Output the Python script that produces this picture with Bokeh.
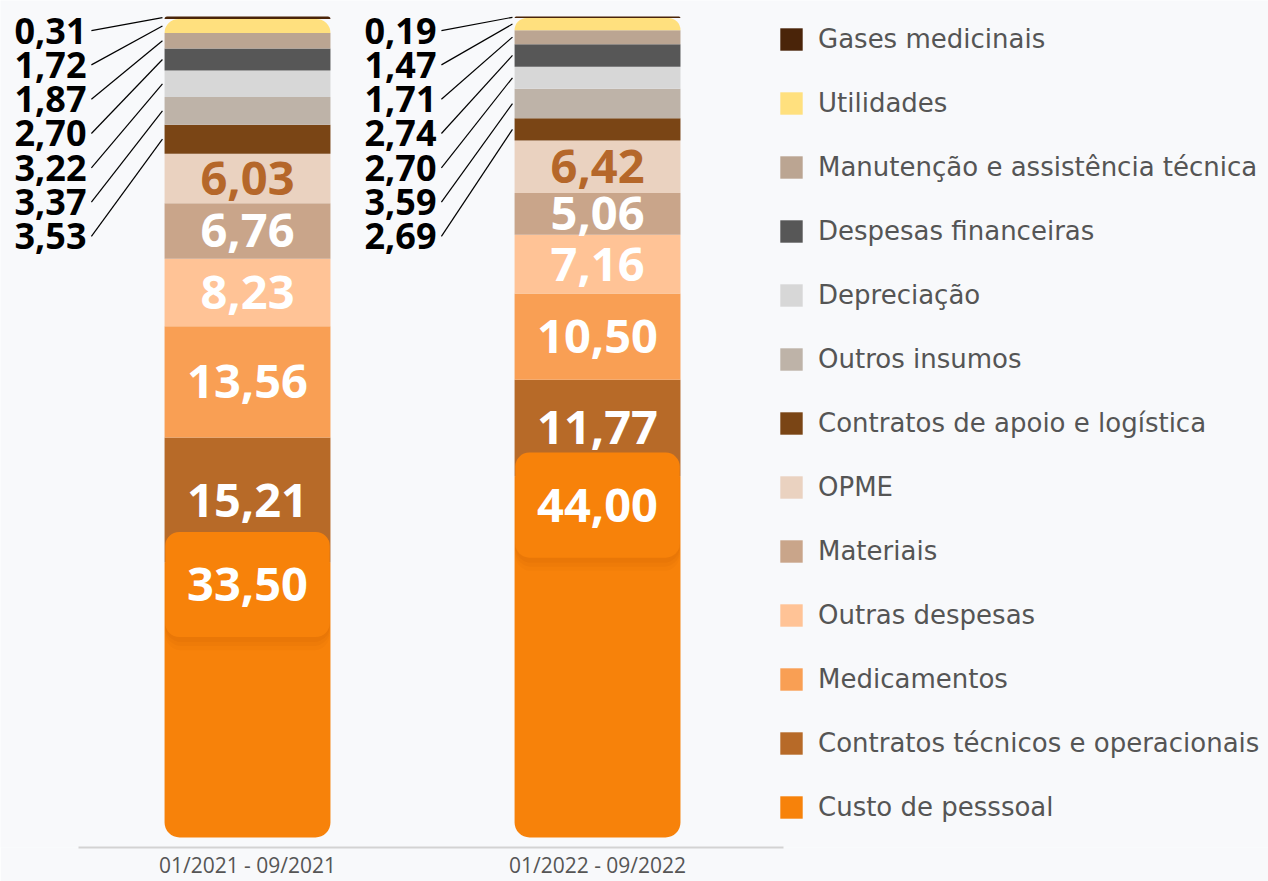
from bokeh.plotting import figure
from bokeh.models import (Range1d, FixedTicker, Legend, LegendItem, ColumnDataSource)
from bokeh.core.properties import value
from bokeh.embed import file_html
from bokeh.resources import INLINE

# ---------------- data ----------------
periods = ["01/2021 - 09/2021", "01/2022 - 09/2022"]
categories = [
    "Custo de pesssoal",
    "Contratos técnicos e operacionais",
    "Medicamentos",
    "Outras despesas",
    "Materiais",
    "OPME",
    "Contratos de apoio e logística",
    "Outros insumos",
    "Depreciação",
    "Despesas financeiras",
    "Manutenção e assistência técnica",
    "Utilidades",
    "Gases medicinais",
]
values_2021 = [33.50, 15.21, 13.56, 8.23, 6.76, 6.03, 3.53, 3.37, 3.22, 2.70, 1.87, 1.72, 0.31]
values_2022 = [44.00, 11.77, 10.50, 7.16, 5.06, 6.42, 2.69, 3.59, 2.70, 2.74, 1.71, 1.47, 0.19]
colors = [
    "#F7820A", "#B76A28", "#F99F54", "#FFC396", "#C9A58A", "#EAD2C0", "#7A4515",
    "#BEB3A8", "#D7D7D7", "#575757", "#BBA592", "#FFE07E", "#4A2409",
]

# ---------------- style ----------------
BG = "#F8F9FB"
BAR_W = 0.474
FONT = "Open Sans"
N_INSIDE = 6

def fmt(v):
    return f"{v:.2f}".replace(".", ",")

p = figure(width=1268, height=881, output_backend="svg", toolbar_location=None,
           x_range=Range1d(-0.7057, 2.917), y_range=Range1d(-1.22, 101.95),
           min_border_left=0, min_border_right=0, min_border_top=0, min_border_bottom=30,
           background_fill_color=BG, border_fill_color=BG, outline_line_color=None)
p.grid.visible = False
p.yaxis.visible = False

xs = [0, 1]
series = [values_2021, values_2022]

# stacked bars
bottoms = [0.0, 0.0]
renderers = []
for i, cat in enumerate(categories):
    vals = [series[0][i], series[1][i]]
    tops = [bottoms[0] + vals[0], bottoms[1] + vals[1]]
    if i == 0:
        br = (0, 0, 15, 15)
    elif i >= len(categories) - 2:
        br = (15, 15, 0, 0)
    else:
        br = 0
    src = ColumnDataSource(dict(x=xs, top=tops, bottom=list(bottoms)))
    r = p.vbar(x="x", top="top", bottom="bottom", width=BAR_W, source=src,
               fill_color=colors[i], line_color=None, border_radius=br)
    renderers.append(r)
    bottoms = tops

# cumulative positions for labels
cum = [[0.0], [0.0]]
for s in range(2):
    for v in series[s]:
        cum[s].append(cum[s][-1] + v)

# label box for the first category (Custo de pesssoal)
box_y = [0.92 * series[0][0], 0.92 * series[1][0]]
for off, a in [(1.6, 0.05), (1.1, 0.06), (0.6, 0.07)]:
    p.vbar(x=xs, top=[y + 6.4 - off for y in box_y], bottom=[y - 6.4 - off for y in box_y],
           width=BAR_W - 0.004, fill_color="#A84800", fill_alpha=a, line_color=None,
           border_radius=16)
p.vbar(x=xs, top=[y + 6.4 for y in box_y], bottom=[y - 6.4 for y in box_y], width=BAR_W - 0.004,
       fill_color="#F7820A", line_color=None, border_radius=14)

# inside labels
for i in range(N_INSIDE):
    ys = []
    for s in range(2):
        if i == 0:
            ys.append(box_y[s])
        else:
            ys.append((cum[s][i] + cum[s][i + 1]) / 2)
    col = "#B5672A" if categories[i] == "OPME" else "white"
    p.text(x=xs, y=ys, text=[fmt(series[0][i]), fmt(series[1][i])],
           text_align="center", text_baseline="middle", text_color=col,
           text_font=value(FONT), text_font_style="bold", text_font_size="47px")

# outside labels with leader lines (small categories, listed top to bottom)
outside = list(range(len(categories) - 1, N_INSIDE - 1, -1))
for s in range(2):
    lab_x = -0.46 + s
    line_x0 = lab_x + 0.014
    line_x1 = s - BAR_W / 2 - 0.006
    ly, lt, segy = [], [], []
    for j, i in enumerate(outside):
        ly.append(98.29 - 4.18 * j)
        lt.append(fmt(series[s][i]))
        segy.append((cum[s][i] + cum[s][i + 1]) / 2)
    p.segment(x0=[line_x0] * len(ly), y0=ly, x1=[line_x1] * len(ly), y1=segy,
              line_color="black", line_width=1.2)
    p.text(x=[lab_x] * len(ly), y=ly, text=lt, text_align="right", text_baseline="middle",
           text_color="black", text_font=value(FONT), text_font_style="bold",
           text_font_size="36px")

# x axis
xa = p.xaxis[0]
xa.ticker = FixedTicker(ticks=[0, 1])
xa.major_label_overrides = {0: periods[0], 1: periods[1]}
xa.bounds = (-0.483, 1.531)
xa.axis_line_color = "#D3D3D3"
xa.axis_line_width = 2
xa.major_tick_line_color = None
xa.minor_tick_line_color = None
xa.major_tick_out = 0
xa.major_tick_in = 0
xa.major_label_text_font = FONT
xa.major_label_text_font_size = "21px"
xa.major_label_text_color = "#555555"
xa.major_label_standoff = 3

# legend
items = [LegendItem(label=categories[i], renderers=[renderers[i]])
         for i in range(len(categories) - 1, -1, -1)]
legend = Legend(items=items, location=(777, 25), glyph_width=28, glyph_height=28,
                label_standoff=13, label_text_font="DejaVu Sans", label_text_font_size="26px",
                label_text_color="#555555", label_height=24, spacing=34, padding=0, margin=0,
                border_line_color=None, background_fill_alpha=0)
p.add_layout(legend)

open("out.html", "w").write(file_html(p, INLINE))
